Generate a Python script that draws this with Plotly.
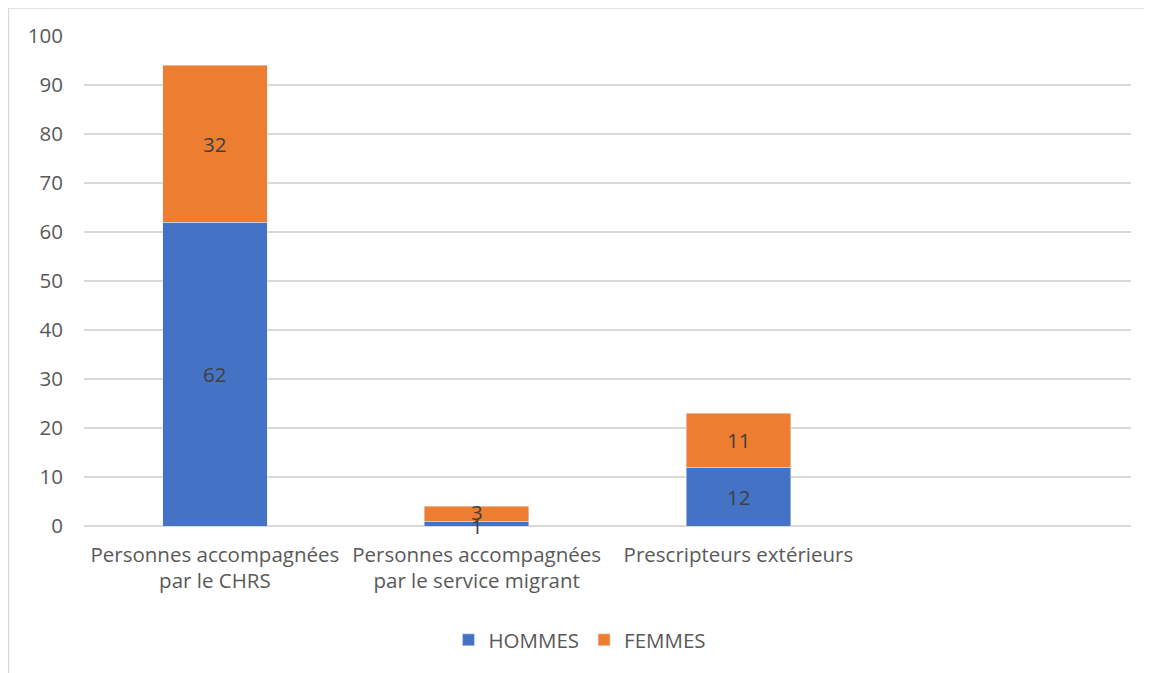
import plotly.graph_objects as go

categories = ["Personnes accompagnées<br>par le CHRS",
              "Personnes accompagnées<br>par le service migrant",
              "Prescripteurs extérieurs"]
hommes = [62, 1, 12]
femmes = [32, 3, 11]
y_ticks = [0, 10, 20, 30, 40, 50, 60, 70, 80, 90, 100]

# page has an 8px body margin, so the figure is drawn 8px smaller
W, H = 1144, 665
ml, mr, mt, mb = 76, 21, 28, 147
pw = W - ml - mr
ph = H - mt - mb

FONT = "Open Sans, sans-serif"
FS = 20.5

fig = go.Figure()
fig.add_trace(go.Bar(name="HOMMES", x=categories, y=hommes, marker_color="#4472C4"))
fig.add_trace(go.Bar(name="FEMMES", x=categories, y=femmes, marker_color="#ED7D31"))

# data labels centred on each segment, drawn on top of all bars
for i, c in enumerate(categories):
    h, f = hommes[i], femmes[i]
    small = (h + f) < 8
    fig.add_annotation(x=c, y=h / 2, text=str(h), showarrow=False,
                       yshift=-2 if small else 0,
                       font=dict(color="#404040", size=FS, family=FONT))
    fig.add_annotation(x=c, y=h + f / 2, text=str(f), showarrow=False,
                       yshift=2 if small else 0,
                       font=dict(color="#404040", size=FS, family=FONT))

fig.update_layout(
    width=W, height=H, barmode="stack", bargap=0.6,
    margin=dict(l=ml, r=mr, t=mt, b=mb),
    paper_bgcolor="white", plot_bgcolor="white",
    font=dict(family=FONT, color="#595959", size=FS),
    xaxis=dict(type="category", range=[-0.5, 3.5], showgrid=False, showline=False,
               ticks="", tickfont=dict(size=FS, color="#595959"), ticklabelstandoff=14),
    yaxis=dict(range=[0, 100], tickvals=y_ticks, showgrid=True, gridcolor="#d9d9d9",
               gridwidth=1.5, zeroline=True, zerolinecolor="#d9d9d9", zerolinewidth=1.5,
               showline=False, ticks="", tickfont=dict(size=FS, color="#595959"),
               ticklabelstandoff=20),
    legend=dict(orientation="h", x=(580 - 84) / pw, xanchor="center", y=(H - mb - 632) / ph,
                yanchor="middle", font=dict(size=FS, color="#595959"),
                traceorder="normal", itemwidth=30),
    showlegend=True,
)

fig.add_shape(type="rect", xref="paper", yref="paper",
              x0=(0.5 - ml) / pw, x1=(W + 20 - ml) / pw,
              y0=(H - mb - (H + 20)) / ph, y1=(H - mb - 0) / ph,
              line=dict(color="#d9d9d9", width=1.5), fillcolor="rgba(0,0,0,0)", layer="below")

fig.write_html("out.html")
